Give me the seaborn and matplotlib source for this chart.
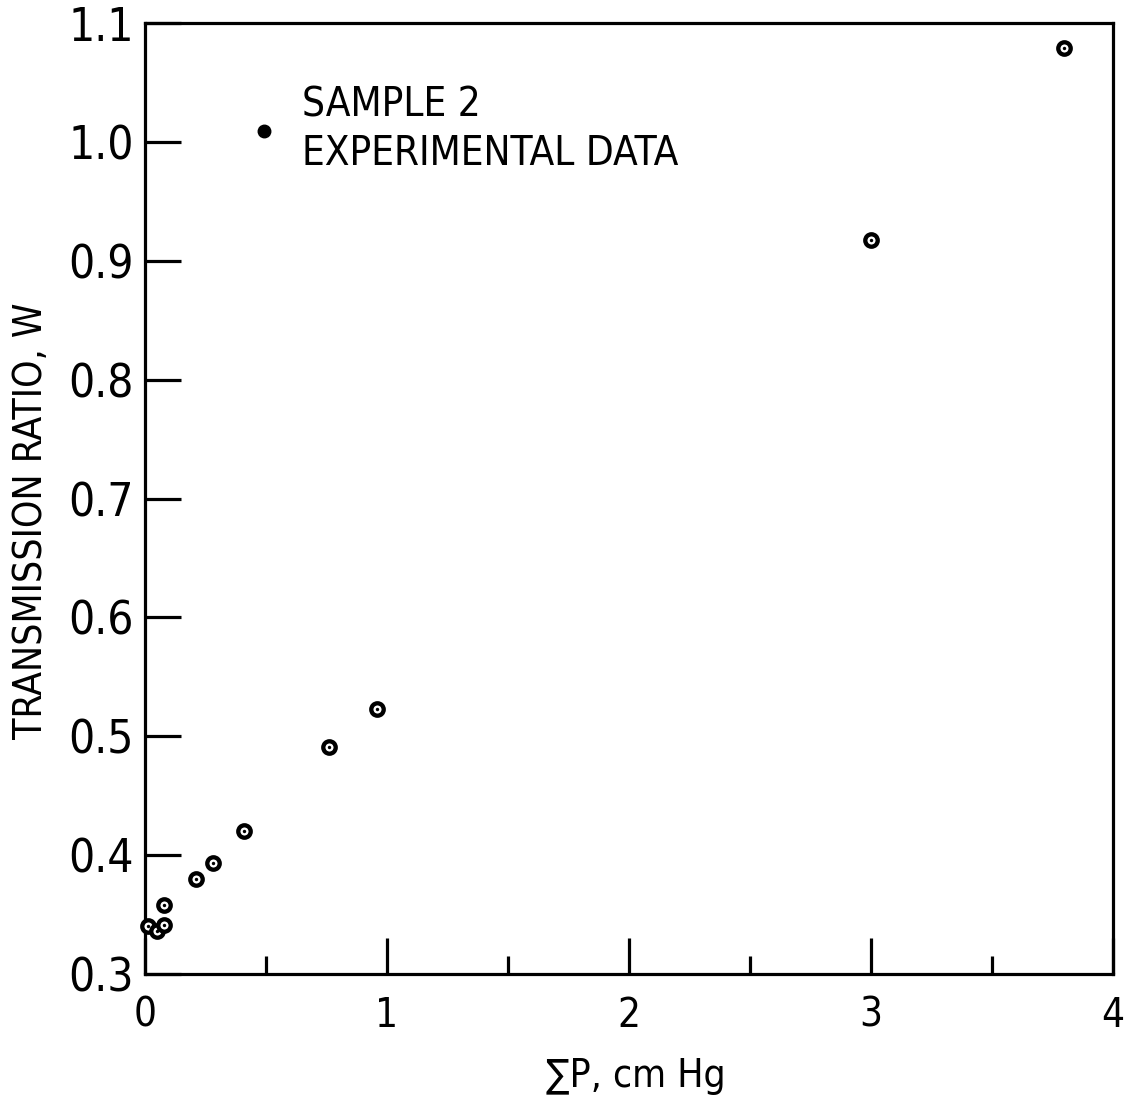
import matplotlib
matplotlib.use("Agg")
import matplotlib.pyplot as plt
from matplotlib.lines import Line2D
import pandas as pd
import seaborn as sns

# values
pressure = [0.01, 0.05, 0.08, 0.08, 0.21, 0.28, 0.41, 0.76, 0.96, 3.00, 3.80]
ratio = [0.340, 0.336, 0.341, 0.358, 0.380, 0.393, 0.420, 0.491, 0.523, 0.918, 1.079]

x_ticks = [0, 1, 2, 3, 4]
x_minor = [0.5, 1.5, 2.5, 3.5]
y_ticks = [0.3, 0.4, 0.5, 0.6, 0.7, 0.8, 0.9, 1.0, 1.1]
y_labels = ["0.3", "0.4", "0.5", "0.6", "0.7", "0.8", "0.9", "1.0", "1.1"]
legend_text = "SAMPLE 2\nEXPERIMENTAL DATA"

df = pd.DataFrame({"p": pressure, "w": ratio})

sns.set_style("white")
plt.rcParams["font.family"] = ["DejaVu Sans"]
plt.rcParams["font.stretch"] = "condensed"
for key in ("text.color", "axes.labelcolor", "xtick.color", "ytick.color"):
    plt.rcParams[key] = "black"

fig = plt.figure(figsize=(11.25, 11.14), dpi=100)
ax = fig.add_axes([0.129, 0.126, 0.860, 0.853])

# ring markers with a dot in the middle
sns.scatterplot(data=df, x="p", y="w", ax=ax, s=80, marker="o",
                facecolor="white", edgecolor="black", linewidth=3.1,
                zorder=3, clip_on=False)
sns.scatterplot(data=df, x="p", y="w", ax=ax, s=6, marker="o",
                color="black", linewidth=0, zorder=4, clip_on=False)

ax.set_xlim(0, 4)
ax.set_ylim(0.3, 1.1)
ax.set_xticks(x_ticks)
ax.set_xticks(x_minor, minor=True)
ax.set_yticks(y_ticks)
ax.set_yticklabels(y_labels)

for s in ax.spines.values():
    s.set_linewidth(2.3)
    s.set_color("black")

ax.tick_params(axis="x", which="major", direction="in", length=26, width=2.3,
               labelsize=29, pad=16, bottom=True, top=False)
ax.tick_params(axis="x", which="minor", direction="in", length=13, width=2.3,
               bottom=True, top=False)
ax.tick_params(axis="y", which="major", direction="in", length=26, width=2.3,
               labelsize=33, pad=8, left=True, right=False)

ax.set_xlabel("∑P, cm Hg", fontsize=28)
ax.xaxis.set_label_coords(0.507, -0.088)
ax.set_ylabel("TRANSMISSION RATIO, W", fontsize=28)
ax.yaxis.set_label_coords(-0.098, 0.477)

handle = Line2D([], [], linestyle="none", marker="o", markersize=9,
                markerfacecolor="black", markeredgecolor="black")
leg = ax.legend([handle], [legend_text], loc="upper left",
                bbox_to_anchor=(0.102, 0.935), frameon=False, fontsize=29,
                handlelength=1.0, handletextpad=0.45, borderpad=0,
                borderaxespad=0, labelspacing=0)
for t in leg.get_texts():
    t.set_linespacing(1.3)

fig.savefig("out.png", dpi=100, facecolor="white")
